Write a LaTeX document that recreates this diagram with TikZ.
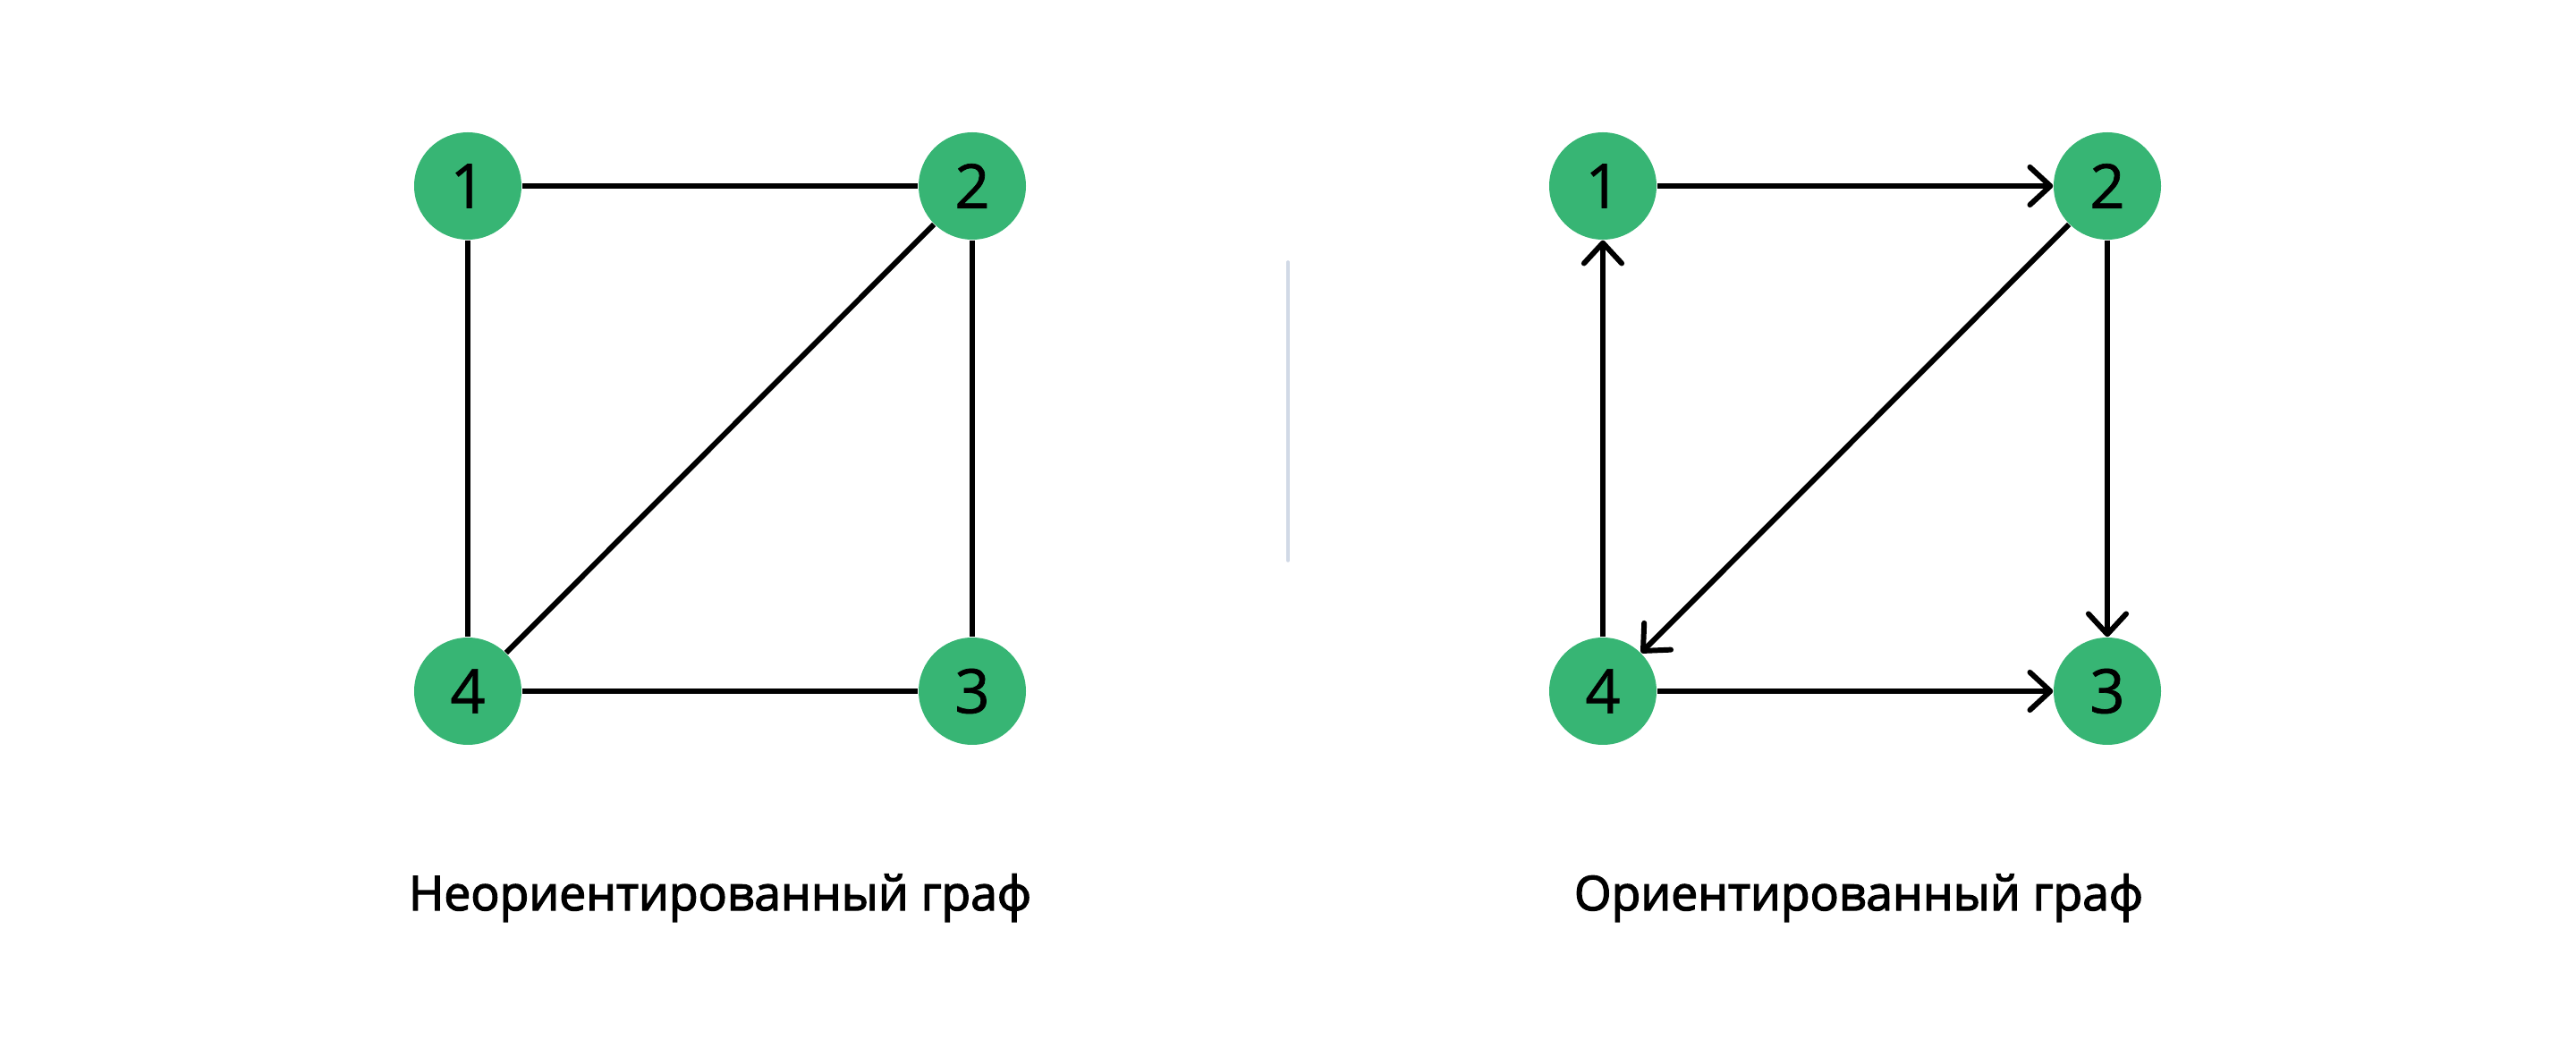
\documentclass[tikz,border=0pt]{standalone}
\usepackage{fontspec}
\setmainfont{Open Sans}
\newfontfamily\captionfont[FakeBold=2.5]{Open Sans}
\newfontfamily\digitfont[FakeBold=1]{Open Sans}
\usepackage{tikz}
\usetikzlibrary{arrows.meta}
\pgfdeclarelayer{background}
\pgfsetlayers{background,main}
\definecolor{grnodecolor}{HTML}{37B574}
\definecolor{grdividercolor}{HTML}{D1D9E6}
\tikzstyle{graphnode} = [circle, fill = grnodecolor, inner sep = 0pt, minimum size = 1.2cm, text = black, font = \digitfont\fontsize{19.5}{19.5}\selectfont]
\tikzstyle{graphedge} = [black, line width = 1.7pt]
\tikzstyle{grapharc} = [graphedge, -{Straight Barb[length = 6.5pt, width = 12pt, round]}]
\tikzstyle{graphcaption} = [anchor = base, font = \captionfont\fontsize{15.2}{15.2}\selectfont]

\begin{document}
\begin{tikzpicture}
\useasboundingbox (0, 0) rectangle (28.8, 11.8);
% undirected
\node[graphnode] (u1) at (5.23, 9.72) {1};
\node[graphnode] (u2) at (10.87, 9.72) {2};
\node[graphnode] (u3) at (10.87, 4.07) {3};
\node[graphnode] (u4) at (5.23, 4.07) {4};
% directed
\node[graphnode] (d1) at (17.92, 9.72) {1};
\node[graphnode] (d2) at (23.56, 9.72) {2};
\node[graphnode] (d3) at (23.56, 4.07) {3};
\node[graphnode] (d4) at (17.92, 4.07) {4};
\node[graphcaption] (ucap) at (8.05, 1.62) {Неориентированный граф};
\node[graphcaption] (dcap) at (20.78, 1.62) {Ориентированный граф};
\coordinate (divtop) at (14.40, 8.87);
\coordinate (divbot) at (14.40, 5.53);
\begin{pgfonlayer}{background}
\draw[graphedge] (u1) edge (u2);
\draw[graphedge] (u1) edge (u4);
\draw[graphedge] (u2) edge (u3);
\draw[graphedge] (u2) edge (u4);
\draw[graphedge] (u4) edge (u3);
\draw[grapharc] (d1) edge (d2);
\draw[grapharc] (d4) edge (d1);
\draw[grapharc] (d2) edge (d3);
\draw[grapharc] (d2) edge (d4);
\draw[grapharc] (d4) edge (d3);
\draw[grdividercolor, line width = 1pt, line cap = round] (divtop) -- (divbot);
\end{pgfonlayer}
\end{tikzpicture}
\end{document}
